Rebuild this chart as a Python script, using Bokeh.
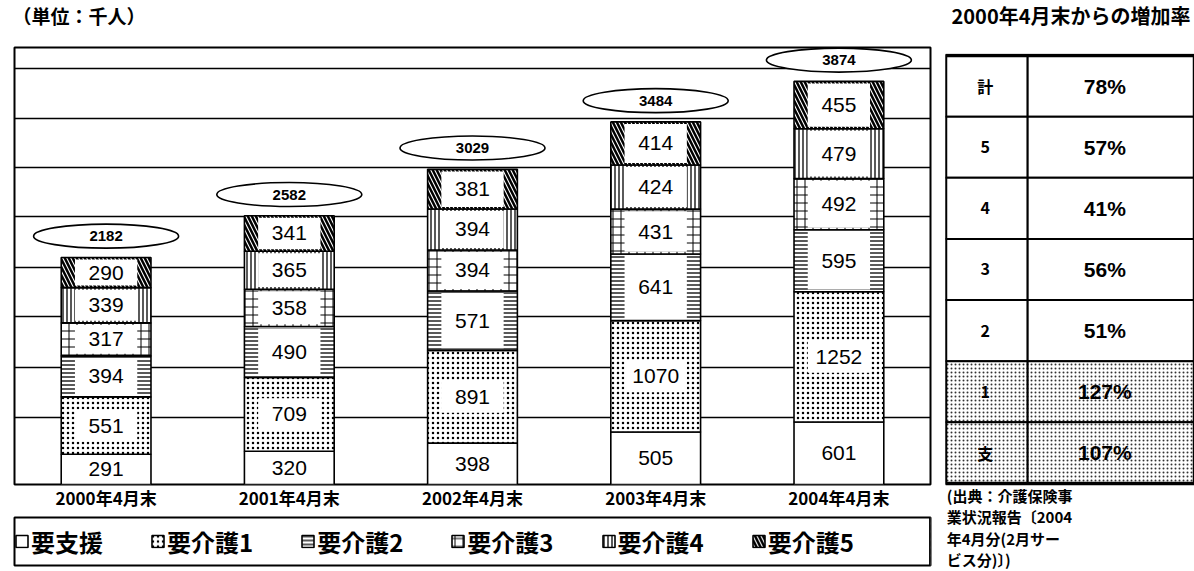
import numpy as np
from bokeh.plotting import figure
from bokeh.models import (ColumnDataSource, FactorRange, Range1d, Legend, LegendItem,
                          Label, FixedTicker)
from bokeh.layouts import column, row
from bokeh.embed import file_html
from bokeh.resources import INLINE
from bokeh.core.properties import value
from bokeh.transform import dodge

# ---------------- data (thousand persons) ----------------
years = ["2000年4月末", "2001年4月末", "2002年4月末", "2003年4月末", "2004年4月末"]
levels = ["要支援", "要介護1", "要介護2", "要介護3", "要介護4", "要介護5"]
yoshien = [291, 320, 398, 505, 601]
kaigo1 = [551, 709, 891, 1070, 1252]
kaigo2 = [394, 490, 571, 641, 595]
kaigo3 = [317, 358, 394, 431, 492]
kaigo4 = [339, 365, 394, 424, 479]
kaigo5 = [290, 341, 381, 414, 455]
totals = [2182, 2582, 3029, 3484, 3874]

rate_rows = ["計", "5", "4", "3", "2", "1", "支"]
rate_values = [78, 57, 41, 56, 51, 127, 107]

unit_title = "（単位：千人）"
rate_title = "2000年4月末からの増加率"
source_note = ["(出典：介護保険事", "業状況報告〔2004", "年4月分(2月サー", "ビス分)〕)"]
grid_levels = [640, 1120, 1610, 2090, 2580, 3050, 3520, 4000]

# ---------------- styles ----------------
JP = "Noto Sans CJK JP"
NUM = "Liberation Sans"
hatches = [None, "dot", "horizontal_line", "cross", "vertical_line", "left_diagonal_line"]
hatch_scales = [12, 5, 4, 8, 4, 8]
hatch_weights = [1, 1.4, 1.3, 1.0, 1.3, 2.5]
BAR_W = 0.49
INNER_W = 0.34


def bar_style(i):
    return dict(fill_color="white", line_color="black", line_width=1.6,
                hatch_pattern=hatches[i], hatch_scale=hatch_scales[i],
                hatch_weight=hatch_weights[i], hatch_color="black")


def bare(fig):
    fig.grid.visible = False
    fig.outline_line_color = None


# ---------------- header ----------------
header = figure(width=1194, height=30, x_range=Range1d(0, 1194), y_range=Range1d(0, 30),
                x_axis_type=None, y_axis_type=None, toolbar_location=None,
                output_backend="svg", min_border=0)
bare(header)
header.add_layout(Label(x=12, y=15, text=unit_title, text_font=JP, text_font_size="19px",
                        text_font_style="bold", text_baseline="middle", text_color="black"))
header.add_layout(Label(x=1190, y=15, text=rate_title, text_font=JP, text_font_size="20px",
                        text_font_style="bold", text_baseline="middle", text_align="right",
                        text_color="black"))

# ---------------- chart ----------------
p = figure(width=937, height=482, x_range=FactorRange(*years), y_range=Range1d(0, 4200),
           toolbar_location=None, output_backend="svg",
           min_border_left=14, min_border_right=7, min_border_top=17, min_border_bottom=27)
p.yaxis.visible = False
p.xgrid.visible = False
p.ygrid.ticker = FixedTicker(ticks=grid_levels)
p.ygrid.grid_line_color = "black"
p.ygrid.grid_line_width = 1.6
p.outline_line_color = "black"
p.outline_line_width = 2
p.xaxis.axis_line_color = None
p.xaxis.major_tick_line_color = None
p.xaxis.minor_tick_line_color = None
p.xaxis.major_tick_out = 0
p.xaxis.major_tick_in = 0
p.xaxis.major_label_text_font = JP
p.xaxis.major_label_text_font_size = "17px"
p.xaxis.major_label_text_font_style = "bold"
p.xaxis.major_label_text_color = "black"
p.xaxis.major_label_standoff = 0

stack = np.array([yoshien, kaigo1, kaigo2, kaigo3, kaigo4, kaigo5])
cum = np.cumsum(stack, axis=0)
for i, name in enumerate(levels):
    top = cum[i]
    bottom = top - stack[i]
    src = ColumnDataSource(dict(year=years, bottom=bottom, top=top, mid=(bottom + top) / 2,
                                ib=bottom + 20, it=top - 20,
                                val=[str(v) for v in stack[i]]))
    p.vbar(x="year", bottom="bottom", top="top", width=BAR_W, source=src, **bar_style(i))
    if i >= 2:
        p.vbar(x="year", bottom="ib", top="it", width=INNER_W, source=src,
               fill_color="white", line_color=None)
    elif i == 1:
        p.rect(x="year", y="mid", width=INNER_W, height=32, height_units="screen",
               source=src, fill_color="white", line_color=None)
    p.text(x="year", y="mid", text="val", source=src, text_align="center",
           text_baseline="middle", text_font=value(NUM), text_font_size="21px",
           text_color="black")

tsrc = ColumnDataSource(dict(year=years, total=totals, label=[str(t) for t in totals]))
p.ellipse(x="year", y=dodge("total", 205), width=145, height=24,
          width_units="screen", height_units="screen", source=tsrc,
          fill_color="white", line_color="black", line_width=1.6)
p.text(x="year", y=dodge("total", 205), text="label", source=tsrc, text_align="center",
       text_baseline="middle", text_font=value(NUM), text_font_size="15px",
       text_font_style="bold", text_color="black")

# ---------------- legend strip (boxed) ----------------
lg = figure(width=937, height=59, x_range=Range1d(0, 1), y_range=Range1d(0, 1),
            x_axis_type=None, y_axis_type=None, toolbar_location=None,
            output_backend="svg", min_border_left=12, min_border_right=7,
            min_border_top=5, min_border_bottom=6)
lg.grid.visible = False
lg.outline_line_color = "black"
lg.outline_line_width = 2
# legend swatch proxies (placed outside the visible range)
proxies = [lg.vbar(x=[5], top=[5], width=0.1, **bar_style(i)) for i in range(len(levels))]
legend = Legend(items=[LegendItem(label=n, renderers=[r]) for n, r in zip(levels, proxies)],
                orientation="horizontal", location="left",
                border_line_color=None, background_fill_alpha=0,
                label_text_font=JP, label_text_font_size="24px", label_text_color="black",
                label_text_font_style="bold", glyph_width=15, glyph_height=15,
                label_standoff=2, spacing=47, padding=8, margin=0)
lg.add_layout(legend, "center")

# ---------------- growth-rate table + source note ----------------
ROW_PX = 61.14
t = figure(width=257, height=541, x_range=Range1d(0, 1),
           y_range=Range1d(7 + 2 / ROW_PX - 518 / ROW_PX, 7 + 2 / ROW_PX),
           x_axis_type=None, y_axis_type=None, toolbar_location=None, output_backend="svg",
           min_border_left=8, min_border_right=0, min_border_top=23, min_border_bottom=0)
bare(t)
n = len(rate_rows)
ypos = n - 0.5 - np.arange(n)
hp = ["dot" if r in ("1", "支") else " " for r in rate_rows]
tsrc2 = ColumnDataSource(dict(y=ypos, row=rate_rows, rate=[f"{v}%" for v in rate_values], hp=hp))
cell = dict(source=tsrc2, fill_color="white", line_color="black", line_width=2,
            hatch_pattern="hp", hatch_scale=4, hatch_weight=1.3, hatch_color="#333333")
t.hbar(y="y", height=1, left=0, right=0.33, **cell)
t.hbar(y="y", height=1, left=0.33, right=1.3, **cell)
t.hbar(y=[n / 2], height=n, left=0, right=1.3, fill_color=None, line_color="black",
       line_width=3.5)
t.text(x=0.16, y="y", text="row", source=tsrc2, text_align="center", text_baseline="middle",
       text_font=value(JP), text_font_size="16px", text_font_style="bold")
t.text(x=0.64, y="y", text="rate", source=tsrc2, text_align="center", text_baseline="middle",
       text_font=value(NUM), text_font_size="21px", text_font_style="bold")
for k, line in enumerate(source_note):
    t.add_layout(Label(x=0.005, y=-(12 + 21.5 * k) / ROW_PX, text=line,
                       text_font=JP, text_font_size="15px", text_font_style="bold",
                       text_baseline="middle", text_color="black"))

layout = column(header, row(column(p, lg), t))
open("out.html", "w").write(file_html(layout, INLINE))
